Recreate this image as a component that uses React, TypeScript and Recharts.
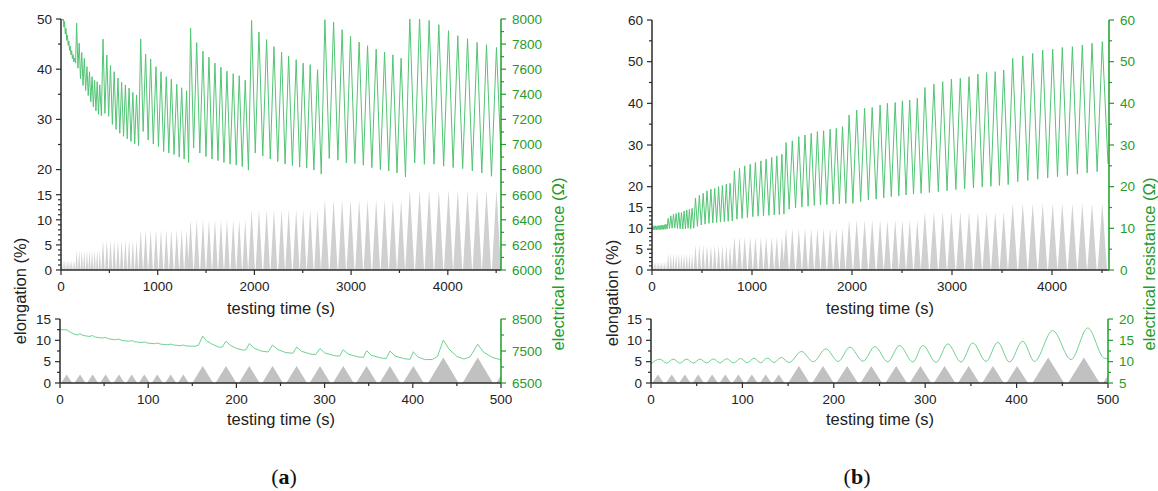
import { ComposedChart, Area, Line, XAxis, YAxis } from "recharts";

// elongation protocol: 8 blocks of 10 triangular cycles
const blockAmp = [2, 4, 6, 8, 10, 12, 14, 16];
const blockHalfWidth = [6.3, 11.8, 17.3, 24, 29, 35, 41, 47];
const peakTimes = [
  [7.6, 22.7, 37, 51.7, 66.9, 81.3, 95.6, 110.3, 125.5, 139.8],
  [161.8, 188.2, 214.6, 241, 268.3, 294.8, 321.2, 347.6, 374.1, 400.6],
  [434.6, 473.6, 512, 550, 589, 627, 666, 704, 743, 781],
  [824, 875, 927, 982, 1034, 1089, 1141, 1197, 1248, 1299],
  [1340, 1403, 1468, 1530, 1592, 1654, 1716, 1781, 1843, 1905],
  [1971, 2047, 2126, 2202, 2281, 2354, 2432, 2504, 2577, 2653],
  [2729, 2819, 2907, 2994, 3083, 3170, 3259, 3346, 3432, 3517],
  [3607, 3708, 3807, 3907, 4007, 4103, 4204, 4303, 4400, 4503],
];

// (a) resistance (Ω): peak and following trough of every cycle
const resPeakA = [
  [8160, 8044, 7981, 7925, 7872, 7825, 7785, 7748, 7715, 7688],
  [7967, 7807, 7733, 7687, 7620, 7580, 7540, 7510, 7500, 7475],
  [7840, 7713, 7630, 7580, 7530, 7495, 7475, 7450, 7415, 7395],
  [7840, 7720, 7680, 7620, 7580, 7540, 7520, 7480, 7452, 7428],
  [7928, 7812, 7744, 7696, 7648, 7616, 7584, 7564, 7548, 7512],
  [7988, 7896, 7836, 7780, 7736, 7704, 7676, 7648, 7636, 7596],
  [7995, 7976, 7915, 7861, 7816, 7787, 7760, 7736, 7715, 7688],
  [8010, 8005, 7989, 7955, 7907, 7867, 7843, 7813, 7795, 7773],
];
const resTroughA = [
  [7990, 7935, 7880, 7830, 7790, 7750, 7715, 7685, 7658, 7648],
  [7608, 7525, 7470, 7430, 7390, 7340, 7300, 7268, 7240, 7230],
  [7248, 7225, 7160, 7120, 7090, 7065, 7045, 7025, 7005, 6990],
  [7104, 7036, 7004, 6984, 6944, 6932, 6920, 6900, 6884, 6856],
  [6972, 6932, 6904, 6884, 6872, 6856, 6844, 6836, 6824, 6796],
  [6932, 6908, 6884, 6864, 6844, 6832, 6820, 6812, 6796, 6764],
  [6888, 6875, 6853, 6848, 6835, 6816, 6800, 6789, 6773, 6741],
  [6853, 6843, 6843, 6827, 6816, 6808, 6789, 6773, 6747, 6900],
];

// (b) resistance (Ω)
const resPeakB = [
  [10.6, 10.6, 10.6, 10.6, 10.65, 10.7, 10.75, 10.8, 10.85, 11.0],
  [12.4, 13.0, 13.4, 13.55, 13.8, 13.8, 14.17, 14.4, 14.55, 14.8],
  [17.28, 17.9, 18.4, 19.0, 19.4, 19.6, 20.0, 20.3, 20.6, 20.8],
  [23.8, 24.4, 25.0, 25.4, 25.8, 26.2, 26.6, 27.0, 27.4, 27.8],
  [30.6, 31.0, 32.0, 32.4, 32.8, 33.2, 33.4, 33.8, 34.0, 34.4],
  [37.2, 38.4, 38.8, 39.0, 39.6, 40.0, 40.2, 40.6, 40.8, 41.2],
  [43.8, 44.6, 45.2, 45.8, 46.0, 46.4, 47.0, 47.4, 47.6, 48.0],
  [50.8, 51.4, 52.0, 52.8, 53.0, 53.4, 53.6, 54.0, 54.4, 54.8],
];
const resTroughB = [
  [9.66, 9.66, 9.66, 9.7, 9.7, 9.7, 9.75, 9.75, 9.8, 9.8],
  [9.97, 10.05, 10.1, 9.97, 9.9, 9.82, 9.9, 10.05, 9.9, 10.05],
  [10.5, 10.8, 11.0, 11.2, 11.3, 11.4, 11.5, 11.6, 11.7, 11.8],
  [12.2, 12.4, 12.6, 12.8, 12.9, 13.0, 13.1, 13.2, 13.3, 13.4],
  [14.6, 14.9, 15.1, 15.3, 15.5, 15.6, 15.7, 15.8, 15.9, 16.0],
  [16.0, 16.4, 16.8, 17.0, 17.3, 17.6, 17.8, 18.0, 18.2, 18.4],
  [18.6, 18.8, 19.0, 19.3, 19.5, 19.7, 19.9, 20.1, 20.3, 20.5],
  [21.2, 21.5, 21.8, 22.1, 22.4, 22.7, 23.0, 23.3, 23.6, 25.5],
];

// first 500 s
const zoomTimeA = [
  0, 8, 12, 17, 20.5, 22.7, 25.5, 33, 37, 40, 48, 51.7, 55, 63, 66.9, 70, 78, 81.3, 84.5, 93,
  95.6, 99, 107, 110.3, 114, 122, 125.5, 129, 137, 139.8, 143, 153, 157, 161.8, 166, 172, 180,
  184, 188.2, 193, 200, 208, 211, 214.6, 220, 228, 236, 241, 247, 256, 264, 268.3, 274, 284,
  290, 294.8, 300, 311, 317, 321.2, 327, 338, 344, 347.6, 353, 364, 370, 374.1, 380, 391, 397,
  400.6, 406, 414, 422, 428, 434.6, 441, 450, 458, 465, 473.6, 480, 490, 500,
];
const zoomResA = [
  8168, 8160, 8080, 8020, 8000, 8044, 7990, 7955, 7981, 7935, 7905, 7925, 7880, 7850, 7872,
  7830, 7805, 7825, 7790, 7765, 7785, 7750, 7728, 7748, 7715, 7695, 7715, 7685, 7668, 7688,
  7658, 7648, 7680, 7967, 7820, 7720, 7620, 7625, 7807, 7680, 7580, 7525, 7540, 7733, 7590,
  7500, 7470, 7687, 7545, 7450, 7430, 7620, 7490, 7405, 7390, 7580, 7440, 7355, 7340, 7540,
  7400, 7315, 7300, 7510, 7365, 7280, 7268, 7500, 7340, 7255, 7240, 7475, 7310, 7230, 7235,
  7330, 7840, 7560, 7330, 7248, 7320, 7713, 7470, 7300, 7225,
];
const zoomTimeB = [
  0, 9.8, 17, 24.4, 31.7, 39, 46.3, 53.6, 61, 68.2, 75.5, 82.8, 90.4, 98, 105.3, 112.6, 120,
  127.2, 134.8, 142.5, 151, 164.7, 177.5, 191.3, 204.8, 217.6, 232, 245, 259, 272, 286.5,
  297.4, 312, 324.7, 339.3, 352, 366.6, 379.4, 392.2, 406.7, 419.5, 439.5, 459.6, 477.8, 496, 500,
];
const zoomResB = [
  9.5, 10.6, 9.66, 10.6, 9.66, 10.6, 9.66, 10.6, 9.7, 10.65, 9.7, 10.7, 9.7, 10.75, 9.75, 10.8,
  9.75, 10.85, 9.8, 11.0, 9.8, 12.4, 9.97, 13.0, 10.05, 13.4, 10.1, 13.55, 9.97, 13.8, 9.9,
  13.8, 9.82, 14.17, 9.9, 14.4, 10.05, 14.55, 9.9, 14.8, 10.05, 17.28, 10.5, 17.9, 10.8, 10.7,
];

const elongData = peakTimes.flatMap((row, b) =>
  row.flatMap((p) => [
    { t: p - blockHalfWidth[b], e: 0 },
    { t: p, e: blockAmp[b] },
    { t: p + blockHalfWidth[b], e: 0 },
  ])
);

function buildRes(start: number, peaks: number[][], troughs: number[][], endT: number) {
  const pt = peakTimes.flat();
  const pv = peaks.flat();
  const tv = troughs.flat();
  const out = [{ t: 0, r: start }];
  pt.forEach((p, i) => {
    out.push({ t: p, r: pv[i] });
    out.push({ t: i < pt.length - 1 ? (p + pt[i + 1]) / 2 : endT, r: tv[i] });
  });
  return out;
}

const resDataA = buildRes(8168, resPeakA, resTroughA, 4550);
const resDataB = buildRes(9.5, resPeakB, resTroughB, 4560);
const zoomDataA = zoomTimeA.map((t, i) => ({ t, r: zoomResA[i] }));
const zoomDataB = zoomTimeB.map((t, i) => ({ t, r: zoomResB[i] }));

const DARK = "#2b2b2b";
const GREEN = "#1f9c2b";
const FONT = "'Liberation Sans', Arial, sans-serif";

const range = (a: number, b: number, s: number) => {
  const r: number[] = [];
  for (let v = a; v <= b + 1e-9; v += s) r.push(Math.round(v * 100) / 100);
  return r;
};

function makeTick(side: "left" | "right" | "bottom", majors: number[], color: string) {
  return (props: any) => {
    const { x, y, payload } = props;
    const v = payload.value;
    const major = majors.some((m) => Math.abs(m - v) < 1e-6);
    const len = major ? 5 : 3;
    const txt = { fontFamily: FONT, fontSize: 13.5, fill: color === GREEN ? GREEN : "#222" };
    if (side === "left")
      return (
        <g>
          <line x1={x} x2={x - len} y1={y} y2={y} stroke={color} strokeWidth={1.2} />
          {major && <text x={x - 9} y={y + 4.8} textAnchor="end" {...txt}>{v}</text>}
        </g>
      );
    if (side === "right")
      return (
        <g>
          <line x1={x} x2={x + len} y1={y} y2={y} stroke={color} strokeWidth={1.2} />
          {major && <text x={x + 11} y={y + 4.8} textAnchor="start" {...txt}>{v}</text>}
        </g>
      );
    return (
      <g>
        <line x1={x} x2={x} y1={y} y2={y + len} stroke={color} strokeWidth={1.2} />
        {major && <text x={x} y={y + 20.8} textAnchor="middle" {...txt}>{v}</text>}
      </g>
    );
  };
}

interface PanelProps {
  left: number; top: number; width: number; height: number;
  marginTop: number; leftW: number; rightW: number; xH: number;
  xMax: number; xMajor: number[]; xMinor: number[];
  lDomain: [number, number]; lMajor: number[]; lMinor: number[];
  rDomain: [number, number]; rMajor: number[]; rMinor: number[];
  res: { t: number; r: number }[]; lineColor: string; curve: "linear" | "monotone"; fill: string;
}

function Panel(p: PanelProps) {
  const sortNums = (a: number[]) => [...a].sort((x, y) => x - y);
  return (
    <div style={{ position: "absolute", left: p.left, top: p.top }}>
      <ComposedChart width={p.width} height={p.height} margin={{ top: p.marginTop, right: 0, bottom: 0, left: 0 }}>
        <XAxis
          type="number" dataKey="t" domain={[0, p.xMax]} allowDataOverflow
          ticks={sortNums([...p.xMajor, ...p.xMinor])} interval={0} height={p.xH}
          tickSize={0} tickMargin={0} tickLine={false}
          axisLine={{ stroke: DARK, strokeWidth: 1.5 }}
          tick={makeTick("bottom", p.xMajor, DARK)}
        />
        <YAxis
          yAxisId="l" type="number" domain={p.lDomain} allowDataOverflow width={p.leftW}
          ticks={sortNums([...p.lMajor, ...p.lMinor])} interval={0}
          tickSize={0} tickMargin={0} tickLine={false}
          axisLine={{ stroke: DARK, strokeWidth: 1.5 }}
          tick={makeTick("left", p.lMajor, DARK)}
        />
        <YAxis
          yAxisId="r" orientation="right" type="number" domain={p.rDomain} allowDataOverflow width={p.rightW}
          ticks={sortNums([...p.rMajor, ...p.rMinor])} interval={0}
          tickSize={0} tickMargin={0} tickLine={false}
          axisLine={{ stroke: GREEN, strokeWidth: 1.5 }}
          tick={makeTick("right", p.rMajor, GREEN)}
        />
        <Area
          data={elongData} dataKey="e" yAxisId="l" type="linear" stroke="none"
          fill={p.fill} fillOpacity={1} isAnimationActive={false}
        />
        <Line
          data={p.res} dataKey="r" yAxisId="r" type={p.curve} stroke={p.lineColor}
          strokeWidth={1} dot={false} activeDot={false} isAnimationActive={false}
        />
      </ComposedChart>
    </div>
  );
}

const bigLeftMinor = [...range(1, 14, 1).filter((v) => v % 5 !== 0), 25, 35, 45];

export default function App() {
  const title = { fontFamily: FONT, fontSize: 16.5, fill: "#222" };
  const gTitle = { fontFamily: FONT, fontSize: 16.5, fill: GREEN };
  const serif = "'Liberation Serif', 'DejaVu Serif', serif";
  return (
    <div style={{ position: "absolute", left: 0, top: 0, width: 1158, height: 491, background: "#fff", overflow: "hidden" }}>
      {/* (a) full test */}
      <Panel
        left={0} top={0} width={580} height={300} marginTop={19} leftW={61} rightW={79} xH={30}
        xMax={4550} xMajor={range(0, 4000, 1000)} xMinor={range(500, 4500, 1000)}
        lDomain={[0, 50]} lMajor={[0, 5, 10, 15, 20, 30, 40, 50]} lMinor={bigLeftMinor}
        rDomain={[6000, 8000]} rMajor={range(6000, 8000, 200)} rMinor={range(6100, 7900, 200)}
        res={resDataA} lineColor="#52c575" curve="linear" fill="#d0d0d0"
      />
      {/* (b) full test */}
      <Panel
        left={580} top={0} width={578} height={300} marginTop={20} leftW={72} rightW={49} xH={30}
        xMax={4570} xMajor={range(0, 4000, 1000)} xMinor={range(500, 4500, 1000)}
        lDomain={[0, 60]} lMajor={[0, 5, 10, 15, 20, 30, 40, 50, 60]} lMinor={[...bigLeftMinor, 55]}
        rDomain={[0, 60]} rMajor={range(0, 60, 10)} rMinor={range(5, 55, 10)}
        res={resDataB} lineColor="#52c575" curve="linear" fill="#d0d0d0"
      />
      {/* (a) first 500 s */}
      <Panel
        left={0} top={300} width={580} height={130} marginTop={19} leftW={60} rightW={79} xH={47}
        xMax={500} xMajor={range(0, 500, 100)} xMinor={range(50, 450, 100)}
        lDomain={[0, 15]} lMajor={[0, 5, 10, 15]} lMinor={[2.5, 7.5, 12.5]}
        rDomain={[6500, 8500]} rMajor={[6500, 7500, 8500]} rMinor={[7000, 8000]}
        res={zoomDataA} lineColor="#6fd28f" curve="linear" fill="#c1c1c1"
      />
      {/* (b) first 500 s */}
      <Panel
        left={580} top={300} width={578} height={130} marginTop={19} leftW={71} rightW={50} xH={47}
        xMax={500} xMajor={range(0, 500, 100)} xMinor={range(50, 450, 100)}
        lDomain={[0, 15]} lMajor={[0, 5, 10, 15]} lMinor={[2.5, 7.5, 12.5]}
        rDomain={[5, 20]} rMajor={[5, 10, 15, 20]} rMinor={[7.5, 12.5, 17.5]}
        res={zoomDataB} lineColor="#6fd28f" curve="monotone" fill="#c1c1c1"
      />
      <svg width={1158} height={491} style={{ position: "absolute", left: 0, top: 0, pointerEvents: "none" }}>
        <text x={281} y={314} textAnchor="middle" {...title}>testing time (s)</text>
        <text x={880} y={314} textAnchor="middle" {...title}>testing time (s)</text>
        <text x={281} y={425} textAnchor="middle" {...title}>testing time (s)</text>
        <text x={880} y={425} textAnchor="middle" {...title}>testing time (s)</text>
        <text transform="translate(26,291) rotate(-90)" textAnchor="middle" {...title}>elongation (%)</text>
        <text transform="translate(618,293) rotate(-90)" textAnchor="middle" {...title}>elongation (%)</text>
        <text transform="translate(564,264) rotate(-90)" textAnchor="middle" {...gTitle}>electrical resistance (Ω)</text>
        <text transform="translate(1155,264) rotate(-90)" textAnchor="middle" {...gTitle}>electrical resistance (Ω)</text>
        <text x={284} y={484} textAnchor="middle" fontFamily={serif} fontSize={22} fill="#111">
          (<tspan fontWeight="bold">a</tspan>)
        </text>
        <text x={857} y={484} textAnchor="middle" fontFamily={serif} fontSize={22} fill="#111">
          (<tspan fontWeight="bold">b</tspan>)
        </text>
      </svg>
    </div>
  );
}
